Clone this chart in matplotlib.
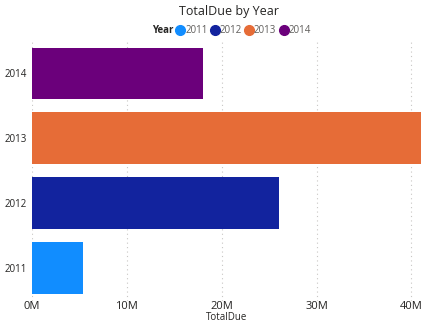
import matplotlib.pyplot as plt
from matplotlib.lines import Line2D
from matplotlib.ticker import FuncFormatter

# total due per order year
years = ["2011", "2012", "2013", "2014"]
total_due = [5.4e6, 26.0e6, 41.0e6, 18.05e6]
colors = ["#118DFF", "#12239E", "#E66C37", "#6B007B"]

plt.rcParams["font.family"] = ["Open Sans", "DejaVu Sans"]
text_color = "#252423"
tick_color = "#605E5C"

fig = plt.figure(figsize=(4.35, 3.31), dpi=100)
ax = fig.add_axes([0.0736, 0.092, 0.894, 0.784])

bars = ax.barh(range(len(years)), total_due, color=colors, height=0.8, zorder=2)

ax.set_yticks(range(len(years)))
ax.set_yticklabels(years)
ax.set_ylim(-0.5, len(years) - 0.5)
ax.set_xlim(0, max(total_due))
ax.set_xticks([0, 10e6, 20e6, 30e6, 40e6])
ax.xaxis.set_major_formatter(FuncFormatter(lambda v, p: f"{v / 1e6:.0f}M"))

# dotted vertical gridlines, no spines
ax.grid(axis="x", linestyle=(0, (1, 3)), color="#C8C6C4", linewidth=0.8, zorder=0)
for s in ax.spines.values():
    s.set_visible(False)
ax.tick_params(axis="both", length=0)
ax.tick_params(axis="x", labelsize=8, labelcolor=text_color, pad=0)
ax.tick_params(axis="y", labelsize=7, labelcolor=text_color, pad=4)

ax.set_xlabel("TotalDue", fontsize=7, color=text_color, labelpad=0)
fig.text(0.526, 0.965, "TotalDue by Year", ha="center", va="center",
         fontsize=9, color=text_color)

# legend row: "Year" caption followed by colored dots
fig.text(0.349, 0.908, "Year", ha="left", va="center", fontsize=7,
         color=text_color, fontweight="bold")
handles = [Line2D([], [], marker="o", linestyle="", markersize=7, color=c) for c in colors]
fig.legend(handles, years, loc="center left", bbox_to_anchor=(0.392, 0.908),
           ncol=4, frameon=False, fontsize=7, handletextpad=0.0,
           columnspacing=0.25, handlelength=1.0, borderpad=0,
           labelcolor=tick_color)

fig.savefig("out.png", dpi=100)
